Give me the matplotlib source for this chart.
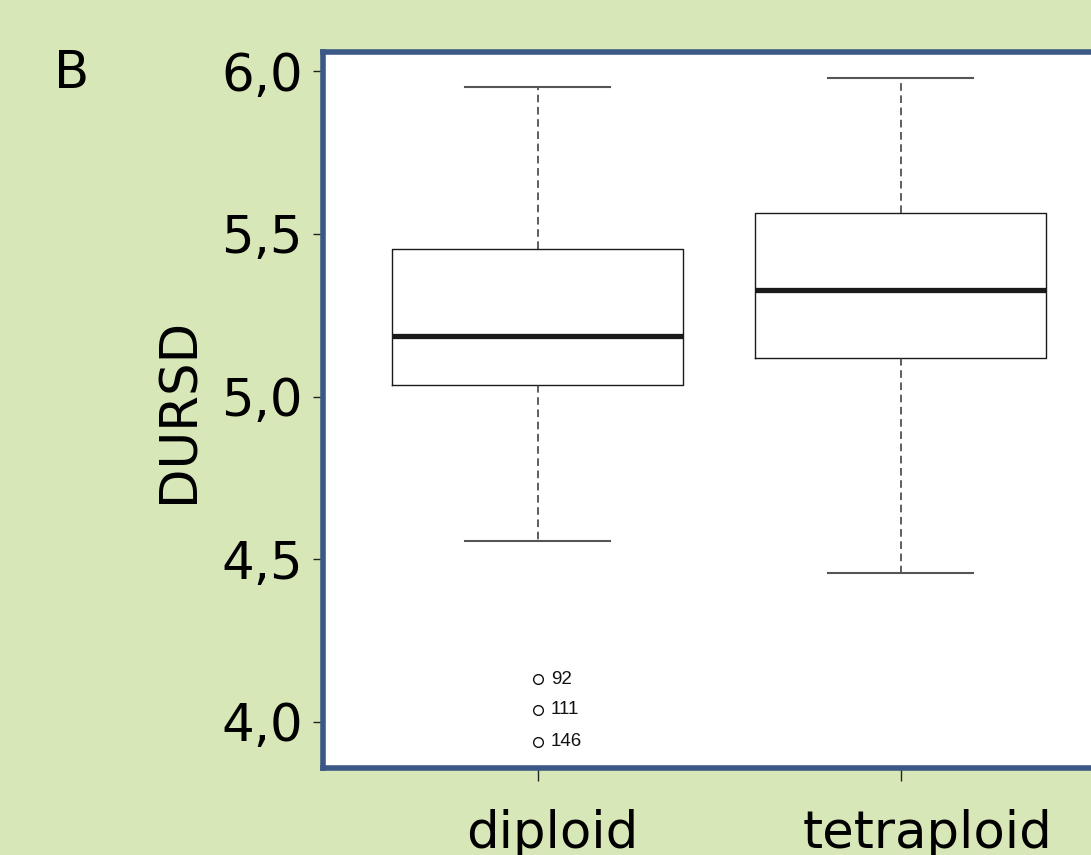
#!/usr/bin/env python3
# Boxplot of DURSD by ploidy level (panel B)

import matplotlib
matplotlib.use("Agg")
import matplotlib.pyplot as plt
import matplotlib.transforms as mtransforms

# Data
groups = ["diploid", "tetraploid"]
whisker_low = [4.556, 4.458]
q1 = [5.035, 5.118]
medians = [5.186, 5.327]
q3 = [5.453, 5.564]
whisker_high = [5.951, 5.978]
outlier_values = [[4.132, 4.037, 3.939], []]
outlier_ids = [["92", "111", "146"], []]

yticks = [4.0, 4.5, 5.0, 5.5, 6.0]
ytick_labels = ["4,0", "4,5", "5,0", "5,5", "6,0"]

BG = "#d8e7b8"
FRAME = "#3b5886"

plt.rcParams["font.family"] = ["DejaVu Sans"]

fig = plt.figure(figsize=(10.91, 8.55), dpi=100, facecolor=BG)
ax = fig.add_axes([0.2965, 0.1023, 0.7253, 0.8363])
ax.set_facecolor("white")

# Build stats for bxp
stats = []
for i, name in enumerate(groups):
    stats.append({
        "label": name,
        "whislo": whisker_low[i],
        "q1": q1[i],
        "med": medians[i],
        "q3": q3[i],
        "whishi": whisker_high[i],
        "fliers": outlier_values[i],
    })

positions = [1, 2]
ax.bxp(stats, positions=positions, widths=0.8, showfliers=True,
       boxprops=dict(color="#1a1a1a", linewidth=1.0),
       medianprops=dict(color="#1a1a1a", linewidth=3.8, solid_capstyle="butt"),
       whiskerprops=dict(color="#333333", linewidth=1.1, linestyle=(0, (5, 3))),
       capprops=dict(color="#555555", linewidth=1.5),
       capwidths=0.4,
       flierprops=dict(marker="o", markersize=7, markerfacecolor="none",
                       markeredgecolor="#111111", markeredgewidth=1.0))

# outlier id labels
for i, pos in enumerate(positions):
    for val, lab in zip(outlier_values[i], outlier_ids[i]):
        ax.annotate(lab, (pos, val), xytext=(9.5, 0), textcoords="offset points",
                    va="center", ha="left", fontsize=13.5,
                    family="Liberation Sans", color="#111111")

ax.set_xlim(0.41, 2.59)
ax.set_ylim(3.86, 6.057)

ax.set_yticks(yticks)
ax.set_yticklabels(ytick_labels)
ax.set_xticks(positions)
ax.set_xticklabels(groups)

ax.tick_params(axis="y", direction="out", length=7, width=1, color="#222222",
               labelsize=37, pad=8)
ax.tick_params(axis="x", direction="out", length=9, width=1, color="#222222",
               labelsize=37, pad=21)

# x labels sit slightly right of the ticks
for lab, shift in zip(ax.get_xticklabels(), [15, 27]):
    offset = mtransforms.ScaledTranslation(shift / 100, 0, fig.dpi_scale_trans)
    lab.set_transform(lab.get_transform() + offset)

ax.set_ylabel("DURSD", fontsize=37, labelpad=12)

for side in ["left", "top", "bottom", "right"]:
    ax.spines[side].set_color(FRAME)
    ax.spines[side].set_linewidth(4)

fig.text(0.0655, 0.914, "B", fontsize=37, ha="center", va="center")

fig.savefig("out.png", dpi=100, facecolor=BG)
